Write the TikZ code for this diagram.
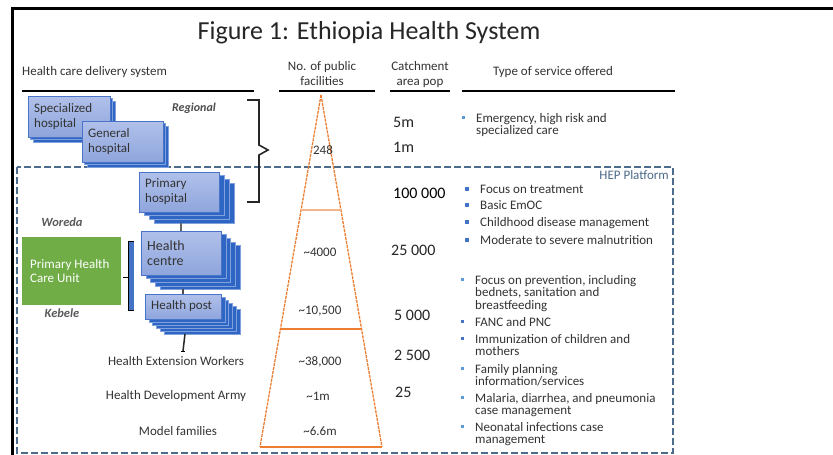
\documentclass[tikz,border=0pt]{standalone}
\usepackage{fontspec}
\setmainfont{Carlito}
\definecolor{txt}{HTML}{333333}
\definecolor{boxedge}{HTML}{4A74C9}
\definecolor{boxtop}{HTML}{B0C0EA}
\definecolor{boxbot}{HTML}{8EA5DC}
\definecolor{backfill}{HTML}{2F66C3}
\definecolor{backedge}{HTML}{7FA2DE}
\definecolor{hep}{HTML}{4D6B8A}
\definecolor{tri}{HTML}{ED7D31}
\definecolor{trilight}{HTML}{F2B48A}
\definecolor{pcugreen}{HTML}{70AD47}
\definecolor{bul}{HTML}{4472C4}
\definecolor{bullight}{HTML}{5B9BD5}
\tikzset{
  every node/.style={text=txt, inner sep=0pt},
  f13/.style={font=\fontsize{13}{15}\selectfont},
  svcfont/.style={font=\fontsize{13}{12.5}\selectfont, align=left},
  catch/.style={font=\fontsize{16}{16}\selectfont, anchor=west, text=black!85},
  trinum/.style={font=\fontsize{13}{13}\selectfont},
  hdr/.style={font=\fontsize{13}{15}\selectfont, align=center},
  rule/.style={line width=2.5pt, black},
  frontbox/.style={draw=boxedge, line width=1pt, top color=boxtop, bottom color=boxbot, anchor=north west, inner sep=0pt},
  backbox/.style={draw=backedge, fill=backfill, line width=0.6pt},
  boxtext/.style={font=\fontsize{13}{15}\selectfont, align=left, anchor=west, text=black!80},
  tridash/.style={tri, line width=1.3pt, dash pattern=on 3pt off 1pt},
  conn/.style={line width=1.5pt, black!85},
}
% name, x, y, w, h, copies, dx, dy, text
\newcommand\stackbox[9]{%
  \foreach \k in {#6,...,1}{\draw[backbox] (#2+\k*#7,#3+\k*#8) rectangle ++(#4,#5);}
  \node[frontbox, minimum width=#4pt, minimum height=#5pt] (#1) at (#2,#3) {};
  \node[boxtext] (#1-t) at (#2+6,#3+#5/2) {#9};
  \coordinate (#1-bot) at (#2+#4/2+2,#3+#5+#6*#8);
}
% name, bullet x, baseline y, bullet size, colour, text
\newcommand\svc[6]{%
  \fill[#5] (#2-#4/2,#3-4.5-#4/2) rectangle ++(#4,#4);
  \node[svcfont, anchor=north west] (#1) at (#2+13,#3-10) {\rule{0pt}{10pt}#6};
}
\begin{document}
\begin{tikzpicture}[x=1pt,y=-1pt]
\useasboundingbox (0,0) rectangle (833,455);
\fill[white] (0,0) rectangle (833,455);

% outer frame
\draw[line width=3pt, black] (12,458) -- (12,8) -- (836,8);

% title
\node[font=\fontsize{26}{26}\selectfont, text=black!85] (title) at (369,33) {Figure 1: Ethiopia Health System};

% headers
\node[hdr, anchor=west] (h1) at (22,72) {Health care delivery system};
\node[hdr] (h2) at (322,74) {No. of public\\facilities};
\node[hdr] (h3) at (420,75) {Catchment\\area pop};
\node[hdr] (h4) at (553,72) {Type of service offered};
\draw[rule] (22,91) -- (254,91);
\draw[rule] (279,91) -- (375,91);
\draw[rule] (390,91) -- (450,91);
\draw[rule] (462,91) -- (675,91);

% HEP platform dashed box
\draw[hep, line width=2.5pt, dash pattern=on 7pt off 3pt] (17,167) rectangle (673,453);
\node[font=\fontsize{13}{13}\selectfont, text=hep, anchor=east] (hepl) at (669,175) {HEP Platform};

% regional
\node[font=\fontsize{12}{12}\selectfont\itshape\bfseries, text=black!70] (regional) at (194,108) {Regional};
\draw[line width=1.6pt, black!85] (247,100) -- (259,100) -- (259,145) -- (268,150) -- (259,155) -- (259,202) -- (247,202);

% triangle
\draw[tridash] (321,95) -- (260,447);
\draw[tridash] (321,95) -- (382,447);
\draw[trilight, line width=2pt] (301,210) -- (341,210);
\draw[tri, line width=2pt] (280.5,329) -- (361.5,329);
\draw[tri, line width=2.5pt] (260,447) -- (382,447);
\node[trinum] (n1) at (323,150) {248};
\node[trinum] (n2) at (320,252) {\textasciitilde 4000};
\node[trinum] (n3) at (320,311) {\textasciitilde 10,500};
\node[trinum] (n4) at (320,362) {\textasciitilde 38,000};
\node[trinum] (n5) at (318,396) {\textasciitilde 1m};
\node[trinum] (n6) at (320,431) {\textasciitilde 6.6m};

% catchment
\node[catch] (c1) at (393,122) {5m};
\node[catch] (c2) at (393,147) {1m};
\node[catch, text=black] (c3) at (393,193) {100 000};
\node[catch] (c4) at (391,250) {25 000};
\node[catch] (c5) at (394,315) {5 000};
\node[catch] (c6) at (394,355) {2 500};
\node[catch] (c7) at (395,392) {25};

\coordinate (hewtop) at (183,351);

% box stacks
\stackbox{spec}{28}{96}{82}{41}{2}{2.5}{2.5}{Specialized\\hospital}
\stackbox{gen}{82}{121}{81}{41}{2}{2.5}{2.5}{General\\hospital}
\stackbox{phosp}{139}{172}{80}{40}{3}{5}{3.7}{Primary\\hospital}
\stackbox{hc}{141}{231}{80}{44}{4}{4.8}{3.6}{\fontsize{14}{15}\selectfont Health\\\fontsize{14}{15}\selectfont centre}
\stackbox{hpost}{145}{294}{76}{25}{5}{3.8}{3}{Health post}

\draw[line width=1.5pt, black!60] (phosp-bot) -- (phosp-bot |- hc.north);
\draw[line width=1.5pt, black!70] (hc-bot) -- (hc-bot |- hpost.north);
\draw[conn] (hpost-bot) -- (hewtop);
\draw[line width=1pt, black] ([xshift=-2pt]hewtop) -- ([xshift=2pt]hewtop);

% PHCU
\node[fill=pcugreen, minimum width=99pt, minimum height=68pt, anchor=north west] (pcu) at (22,237) {};
\node[font=\fontsize{13}{14}\selectfont, text=white, align=left, anchor=west] (pcut) at (30,271) {Primary Health\\Care Unit};
\fill[bul] (129,241) rectangle (134,310);
\draw[line width=1pt, black] (134,241) -- (128,241) -- (128,310) -- (134,310);
\draw[line width=1pt, black] (123,277) -- (128,277);
\node[font=\fontsize{12.5}{12.5}\selectfont\itshape\bfseries, text=black!65] (woreda) at (62,222) {Woreda};
\node[font=\fontsize{12.5}{12.5}\selectfont\itshape\bfseries, text=black!65] (kebele) at (62,313) {Kebele};

% community levels
\node[f13] (hew) at (176,361) {Health Extension Workers};
\node[f13] (hda) at (176,396) {Health Development Army};
\node[f13] (mf) at (178,431) {Model families};

% services
\svc{s0}{463}{122}{3}{bullight}{Emergency, high risk and\\specialized care}
\svc{s1}{467}{193}{4}{bul}{Focus on treatment}
\svc{s2}{467}{209}{4}{bul}{Basic EmOC}
\svc{s3}{467}{226}{4}{bul}{Childhood disease management}
\svc{s4}{467}{244}{4}{bul}{Moderate to severe malnutrition}
\svc{s5}{462}{284}{3}{bullight}{Focus on prevention, including\\bednets, sanitation and\\breastfeeding}
\svc{s6}{462}{326}{3}{bul}{FANC and PNC}
\svc{s7}{462}{343}{3}{bul}{Immunization of children and\\mothers}
\svc{s8}{462}{373}{3}{bullight}{Family planning\\information/services}
\svc{s9}{462}{402}{3}{bullight}{Malaria, diarrhea, and pneumonia\\case management}
\svc{s10}{462}{431}{3}{bullight}{Neonatal infections case\\management}
\end{tikzpicture}
\end{document}
